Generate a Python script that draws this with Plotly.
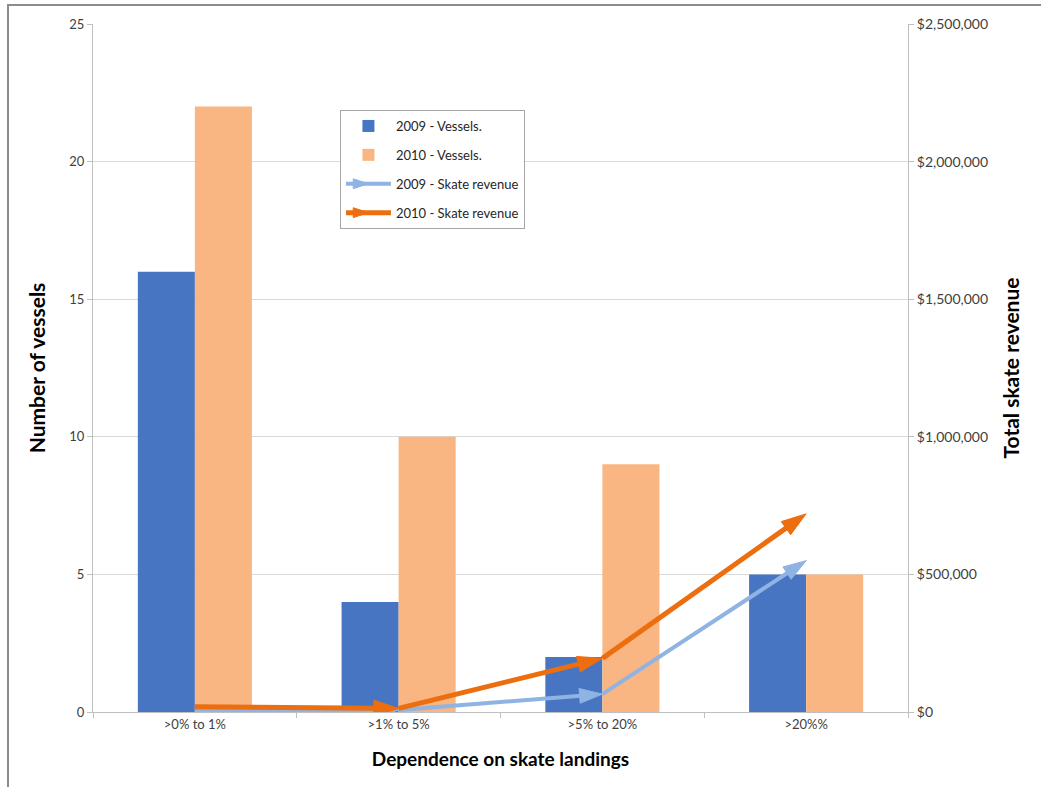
import plotly.graph_objects as go

categories = [">0% to 1%", ">1% to 5%", ">5% to 20%", ">20%%"]
vessels_2009 = [16, 4, 2, 5]
vessels_2010 = [22, 10, 9, 5]
revenue_2009 = [8000, 7000, 65000, 550000]
revenue_2010 = [19000, 13000, 195000, 720000]

blue = "#4775C2"
peach = "#F9B682"
light_blue = "#8FB3E2"
dark_orange = "#EC6E0E"
font_family = "Lato, 'Open Sans', sans-serif"

fig = go.Figure()

fig.add_trace(go.Bar(
    x=categories, y=vessels_2009, name="2009 - Vessels.",
    marker=dict(color=blue, line=dict(width=0)),
    legendgroup="a", yaxis="y",
))
fig.add_trace(go.Bar(
    x=categories, y=vessels_2010, name="2010 - Vessels.",
    marker=dict(color=peach, line=dict(width=0)),
    legendgroup="b", yaxis="y",
))

def arrow_sizes(n, size):
    # no arrowhead on the starting point of each series
    return [0] + [size] * (n - 1)

fig.add_trace(go.Scatter(
    x=categories, y=revenue_2009, name="2009 - Skate revenue",
    mode="lines+markers", yaxis="y2", legendgroup="c",
    line=dict(color=light_blue, width=4),
    marker=dict(symbol="arrow", angleref="previous", color=light_blue, opacity=1,
                size=arrow_sizes(len(revenue_2009), 24),
                line=dict(width=1, color=light_blue)),
))
fig.add_trace(go.Scatter(
    x=categories, y=revenue_2010, name="2010 - Skate revenue",
    mode="lines+markers", yaxis="y2", legendgroup="d",
    line=dict(color=dark_orange, width=5),
    marker=dict(symbol="arrow", angleref="previous", color=dark_orange, opacity=1,
                size=arrow_sizes(len(revenue_2010), 26),
                line=dict(width=1, color=dark_orange)),
))

fig.update_layout(
    width=1041, height=787,
    margin=dict(l=93, r=133, t=24, b=75),
    paper_bgcolor="white", plot_bgcolor="white",
    font=dict(family=font_family, size=13, color="#404040"),
    barmode="group", bargap=0.44, bargroupgap=0,
    showlegend=True,
    legend=dict(
        x=0.303, y=0.875, xanchor="left", yanchor="top",
        bgcolor="white", bordercolor="#A6A6A6", borderwidth=1,
        font=dict(size=13, color="#262626"),
        traceorder="grouped", tracegroupgap=9, itemwidth=45,
    ),
    xaxis=dict(
        showline=True, linecolor="#BFBFBF", linewidth=1,
        ticks="outside", tickson="boundaries", ticklen=5, tickcolor="#BFBFBF",
        tickfont=dict(size=13, color="#404040"),
        title=dict(text="<b>Dependence on skate landings</b>",
                   font=dict(size=19, color="#000000"), standoff=22),
    ),
    yaxis=dict(
        range=[0, 25], dtick=5,
        showgrid=True, gridcolor="#D9D9D9", gridwidth=1,
        showline=True, linecolor="#BFBFBF", linewidth=1,
        ticks="outside", ticklen=5, tickcolor="#BFBFBF",
        tickfont=dict(size=13, color="#404040"),
        zeroline=False,
        title=dict(text="<b>Number of vessels</b>",
                   font=dict(size=21, color="#000000"), standoff=17),
    ),
    yaxis2=dict(
        range=[0, 2500000], dtick=500000, overlaying="y", side="right",
        tickformat="$,.0f",
        showgrid=False,
        showline=True, linecolor="#BFBFBF", linewidth=1,
        ticks="outside", ticklen=5, tickcolor="#BFBFBF",
        tickfont=dict(size=14, color="#404040"),
        zeroline=False,
        title=dict(text="<b>Total skate revenue</b>",
                   font=dict(size=21, color="#000000"), standoff=17),
    ),
    shapes=[dict(
        type="rect", xref="paper", yref="paper",
        x0=-0.1043, x1=1.3, y0=-0.3, y1=1.0276,
        line=dict(color="#8C8C8C", width=2), fillcolor="rgba(0,0,0,0)",
        layer="below",
    )],
)

fig.write_html("out.html")
